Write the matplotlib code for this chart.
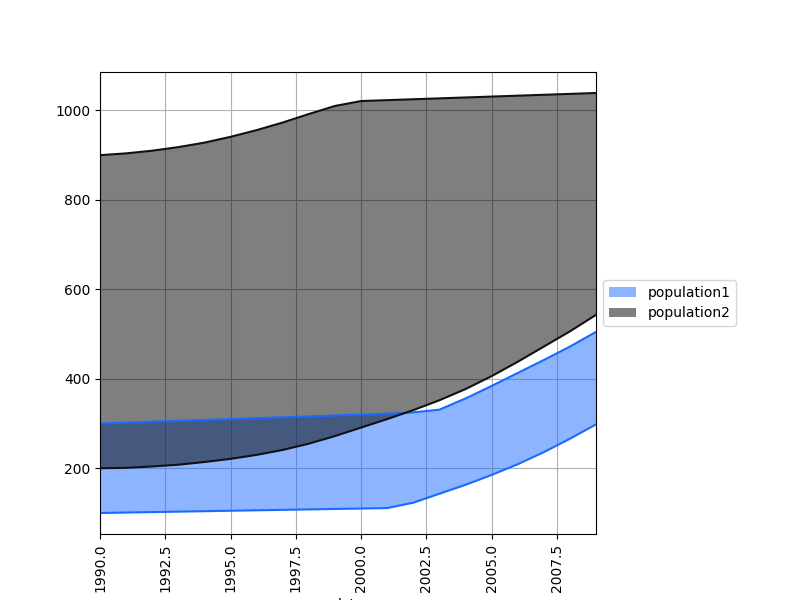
import numpy as np
import matplotlib
matplotlib.use('Agg')
import matplotlib.pyplot as plt

years = list(range(1990, 2010))

pop1_low = [100, 101, 102, 103, 104, 105, 106, 107, 108, 109,
            110, 111, 123, 143, 163, 185, 209, 236, 266, 298]
pop1_high = [300, 302, 304, 306, 308, 310, 312, 314, 316, 318,
             320, 322, 325, 331, 356, 384, 413, 442, 472, 505]

pop2_low = [200, 201, 204, 208, 214, 221, 230, 241, 255, 272,
            291, 310, 330, 352, 377, 406, 438, 472, 506, 543]
pop2_high = [900, 904, 910, 918, 928, 941, 956, 973, 992, 1010,
             1021, 1023, 1025, 1027, 1029, 1031, 1033, 1035, 1037, 1039]

blue = '#1a6aff'

fig, ax = plt.subplots(figsize=(8, 6), dpi=100)

ax.plot(years, pop1_low, color=blue)
ax.plot(years, pop1_high, color=blue)
ax.fill_between(years, pop1_low, pop1_high, facecolor=blue, edgecolor='none',
                alpha=0.5, label='population1')

ax.plot(years, pop2_low, color='#111111')
ax.plot(years, pop2_high, color='#111111')
ax.fill_between(years, pop2_low, pop2_high, facecolor='k', edgecolor='none',
                alpha=0.5, label='population2')

ax.set_xlim(years[0], years[-1])
ax.set_axisbelow(True)
ax.grid(True)
ax.set_xlabel('date')
plt.setp(ax.get_xticklabels(), rotation=90)

box = ax.get_position()
ax.set_position([box.x0, box.y0, box.width * 0.8, box.height])
ax.legend(loc='center left', bbox_to_anchor=(1, 0.5))

fig.savefig('out.png')
